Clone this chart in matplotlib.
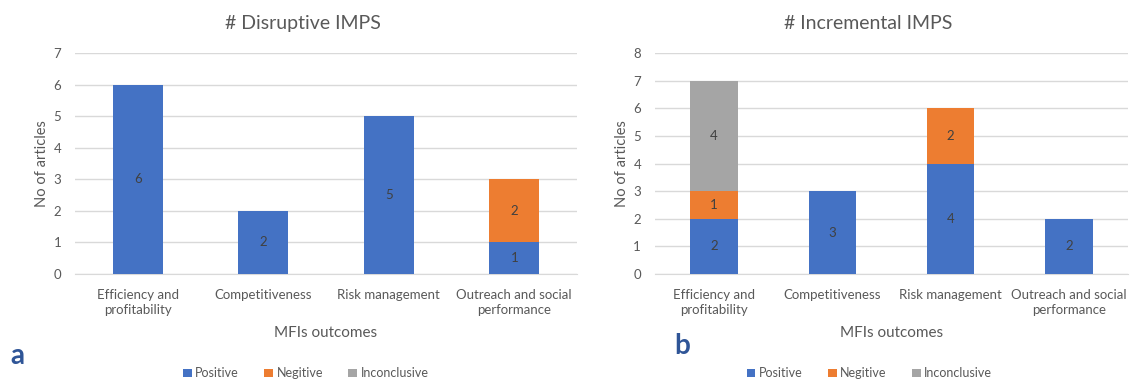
import numpy as np
import matplotlib.pyplot as plt
from matplotlib.patches import Patch

plt.rcParams['font.family'] = ['Lato', 'DejaVu Sans']

# Categories and counts per outcome
outcomes = ["Efficiency and\nprofitability", "Competitiveness",
            "Risk management", "Outreach and social\nperformance"]
series = ["Positive", "Negitive", "Inconclusive"]
colors = ["#4472C4", "#ED7D31", "#A5A5A5"]

disruptive_pos = [6, 2, 5, 1]
disruptive_neg = [0, 0, 0, 2]
disruptive_inc = [0, 0, 0, 0]

incremental_pos = [2, 3, 4, 2]
incremental_neg = [1, 0, 2, 0]
incremental_inc = [4, 0, 0, 0]

text_col = "#595959"
grid_col = "#D9D9D9"

fig = plt.figure(figsize=(11.32, 3.85), dpi=100)


def draw_panel(rect, title, title_x, data, ymax, letter, letter_xy, legend_x):
    ax = fig.add_axes(rect)
    x = np.arange(len(outcomes))
    bottom = np.zeros(len(outcomes))
    for vals, col in zip(data, colors):
        vals = np.array(vals, dtype=float)
        ax.bar(x, vals, 0.4, bottom=bottom, color=col, zorder=3)
        for xi, b, v in zip(x, bottom, vals):
            if v > 0:
                ax.text(xi, b + v / 2, str(int(v)), ha="center", va="center",
                        fontsize=9.5, color="#404040", zorder=4)
        bottom += vals
    ax.set_xlim(-0.5, len(outcomes) - 0.5)
    ax.set_ylim(0, ymax)
    ax.set_yticks(range(ymax + 1))
    ax.yaxis.grid(True, color=grid_col, linewidth=1, zorder=0)
    ax.set_axisbelow(True)
    for s in ["top", "right", "left"]:
        ax.spines[s].set_visible(False)
    ax.spines["bottom"].set_color(grid_col)
    ax.tick_params(axis="both", length=0, colors=text_col, labelsize=9.5)
    ax.tick_params(axis="y", pad=10)
    ax.tick_params(axis="x", pad=11)
    ax.set_xticks(x)
    ax.set_xticklabels(outcomes, linespacing=1.25)
    ax.set_ylabel("No of articles", color=text_col, fontsize=10.5, labelpad=3)
    ax.set_xlabel("MFIs outcomes", color=text_col, fontsize=11, labelpad=7)
    fig.text(title_x, 0.94, title, ha="center", va="center",
             fontsize=14, color=text_col)
    fig.text(letter_xy[0], letter_xy[1], letter, ha="left", va="center",
             fontsize=20, fontweight="bold", color="#2F5597")
    handles = [Patch(facecolor=c, edgecolor="none") for c in colors]
    fig.legend(handles, series, loc="center", bbox_to_anchor=(legend_x, 0.03),
               ncol=3, frameon=False, fontsize=9, handlelength=0.7,
               handleheight=0.7, handletextpad=0.3, columnspacing=2.0,
               labelcolor=text_col)
    return ax


draw_panel([0.0663, 0.2883, 0.4434, 0.5740], "# Disruptive IMPS", 0.268,
           [disruptive_pos, disruptive_neg, disruptive_inc], 7, "a",
           (0.009, 0.075), 0.27)
draw_panel([0.5786, 0.2883, 0.4179, 0.5740], "# Incremental IMPS", 0.767,
           [incremental_pos, incremental_neg, incremental_inc], 8, "b",
           (0.596, 0.1), 0.768)

fig.savefig("out.png", dpi=100)
